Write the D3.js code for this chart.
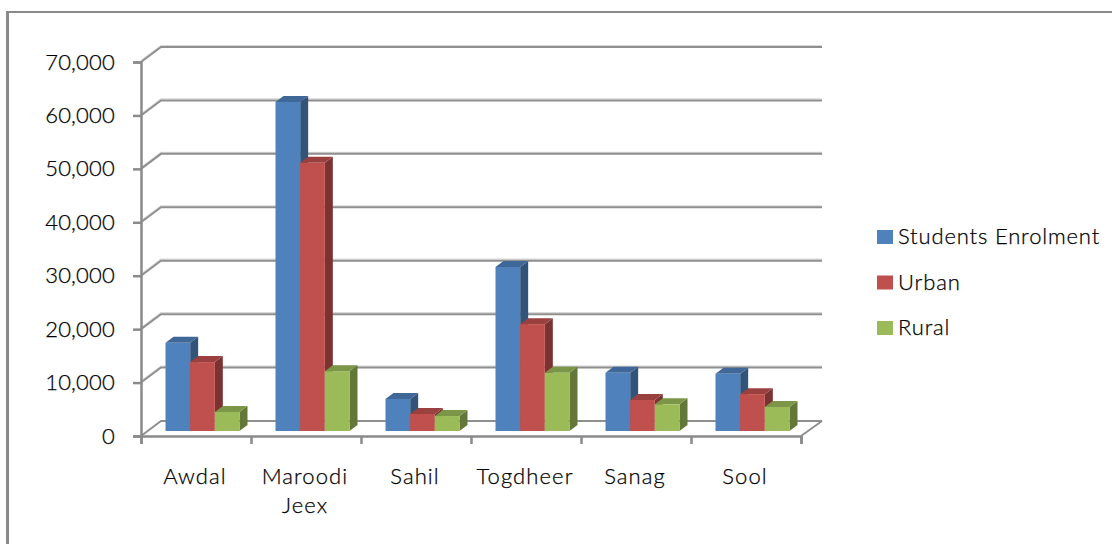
<!DOCTYPE html>
<html lang="en">
<head>
<meta charset="UTF-8">
<title>Students Enrolment by Region</title>
<style>
  html, body { margin: 0; padding: 0; background: #fff; }
  text { font-family: Lato, "Open Sans", sans-serif; font-weight: 300; fill: #000; stroke: #000; stroke-width: 0.25; }
</style>
</head>
<body>
<div id="chart"></div>
<script src="https://d3js.org/d3.v7.min.js"></script>
<script>
  const regions = ['Awdal', 'Maroodi Jeex', 'Sahil', 'Togdheer', 'Sanag', 'Sool'];
  const seriesNames = ['Students Enrolment', 'Urban', 'Rural'];
  const students = [16500, 61600, 6000, 30700, 10900, 10700];
  const urban = [12900, 50200, 3200, 20000, 5800, 6900];
  const rural = [3560, 11200, 2800, 10900, 5000, 4500];
  const yTicks = [0, 10000, 20000, 30000, 40000, 50000, 60000, 70000];

  const seriesValues = [students, urban, rural];
  const front = ['#4f81bd', '#c0504d', '#9bbb59'];
  const topFace = ['#3f6797', '#9a403e', '#7c9647'];
  const sideFace = ['#325479', '#7b3331', '#637838'];

  const width = 1112, height = 544;
  // how far the back wall and the bars sit behind the front axes
  const wallDx = 20, wallDy = 15, barDy = 5, sideDx = 8, sideDy = 6;
  const axisLeft = 141, axisRight = 801;

  const svg = d3.select('#chart').append('svg')
    .attr('width', width)
    .attr('height', height)
    .style('display', 'block');

  // outer frame, runs off the right and bottom of the picture
  svg.append('line')
    .attr('x1', 7.5).attr('x2', 7.5).attr('y1', 11).attr('y2', height)
    .attr('stroke', '#8a8a8a').attr('stroke-width', 3);
  svg.append('line')
    .attr('x1', 6).attr('x2', width).attr('y1', 12).attr('y2', 12)
    .attr('stroke', '#8a8a8a').attr('stroke-width', 2);

  const x0 = d3.scaleBand().domain(d3.range(regions.length)).range([axisLeft, axisRight]);
  const x1 = d3.scaleBand().domain(d3.range(seriesNames.length)).range([24.5, 98.5]);
  const y = d3.scaleLinear().domain([0, 70000]).range([436, 62]);

  // gridlines on the back wall, with a pale edge above each one
  const gridPath = d => 'M' + axisLeft + ',' + y(d) + 'L' + (axisLeft + wallDx) + ',' + (y(d) - wallDy) + 'H' + (axisRight + wallDx + 1);
  svg.append('g').selectAll('path')
    .data(yTicks.slice(1))
    .join('path')
    .attr('d', gridPath)
    .attr('transform', 'translate(0,-1.5)')
    .attr('fill', 'none')
    .attr('stroke', '#d8d8d8')
    .attr('stroke-width', 1.2);
  svg.append('g').selectAll('path')
    .data(yTicks)
    .join('path')
    .attr('d', gridPath)
    .attr('fill', 'none')
    .attr('stroke', '#8f8f8f')
    .attr('stroke-width', 2);

  // floor right edge
  svg.append('line')
    .attr('x1', axisRight).attr('y1', y(0))
    .attr('x2', axisRight + wallDx + 1).attr('y2', y(0) - wallDy)
    .attr('stroke', '#8f8f8f')
    .attr('stroke-width', 2);

  const yAxis = d3.axisLeft(y)
    .tickValues(yTicks)
    .tickFormat(d3.format(','))
    .tickSize(8)
    .tickPadding(18);

  const yG = svg.append('g')
    .attr('transform', 'translate(' + axisLeft + ',0)')
    .call(yAxis);
  yG.selectAll('path, line').attr('stroke', '#8a8a8a').attr('stroke-width', 2.5);
  yG.selectAll('text').attr('font-size', 22).attr('letter-spacing', 0.2).style('font-family', 'Lato');

  const xAxis = d3.axisBottom(d3.scaleLinear().domain([0, regions.length]).range([axisLeft, axisRight]))
    .ticks(regions.length)
    .tickFormat('')
    .tickSize(8)
    .tickSizeOuter(8);

  const xG = svg.append('g')
    .attr('transform', 'translate(0,' + y(0) + ')')
    .call(xAxis);
  xG.selectAll('path, line').attr('stroke', '#8a8a8a').attr('stroke-width', 2.5);

  const groups = svg.selectAll('g.region')
    .data(regions)
    .join('g')
    .attr('class', 'region')
    .attr('transform', (d, i) => 'translate(' + x0(i) + ',0)');

  seriesNames.forEach((name, s) => {
    const w = x1.bandwidth();
    const bx = x1(s);
    const base = y(0) - barDy;

    groups.append('path')
      .attr('d', (d, i) => {
        const t = y(seriesValues[s][i]) - barDy;
        return 'M' + (bx + w) + ',' + t + 'l' + sideDx + ',' + (-sideDy) + 'V' + (base - sideDy) + 'l' + (-sideDx) + ',' + sideDy + 'Z';
      })
      .attr('fill', sideFace[s]);

    groups.append('path')
      .attr('d', (d, i) => {
        const t = y(seriesValues[s][i]) - barDy;
        return 'M' + bx + ',' + t + 'l' + sideDx + ',' + (-sideDy) + 'h' + w + 'l' + (-sideDx) + ',' + sideDy + 'Z';
      })
      .attr('fill', topFace[s]);

    groups.append('rect')
      .attr('x', bx)
      .attr('width', w)
      .attr('y', (d, i) => y(seriesValues[s][i]) - barDy)
      .attr('height', (d, i) => base - (y(seriesValues[s][i]) - barDy))
      .attr('fill', front[s]);
  });

  // category labels, long names wrap on two lines
  const labels = svg.selectAll('text.cat')
    .data(regions)
    .join('text')
    .attr('class', 'cat')
    .attr('text-anchor', 'middle')
    .attr('font-size', 22)
    .attr('letter-spacing', 1.1)
    .attr('y', 484)
    .attr('x', (d, i) => x0(i) + x0.bandwidth() / 2 - 1);
  labels.selectAll('tspan')
    .data(d => d.split(' '))
    .join('tspan')
    .attr('x', function() { return this.parentNode.getAttribute('x'); })
    .attr('dy', (d, i) => i ? 29 : 0)
    .text(d => d);

  const legendY = d3.scalePoint().domain(seriesNames).range([237, 328]);
  const legend = svg.selectAll('g.legend')
    .data(seriesNames)
    .join('g')
    .attr('class', 'legend')
    .attr('transform', d => 'translate(877,' + legendY(d) + ')');
  legend.append('rect')
    .attr('y', -7)
    .attr('width', 16)
    .attr('height', 14)
    .attr('fill', (d, i) => front[i]);
  legend.append('text')
    .attr('x', 21)
    .attr('y', 7)
    .attr('font-size', 22)
    .attr('letter-spacing', 0.85)
    .text(d => d);
</script>
</body>
</html>
